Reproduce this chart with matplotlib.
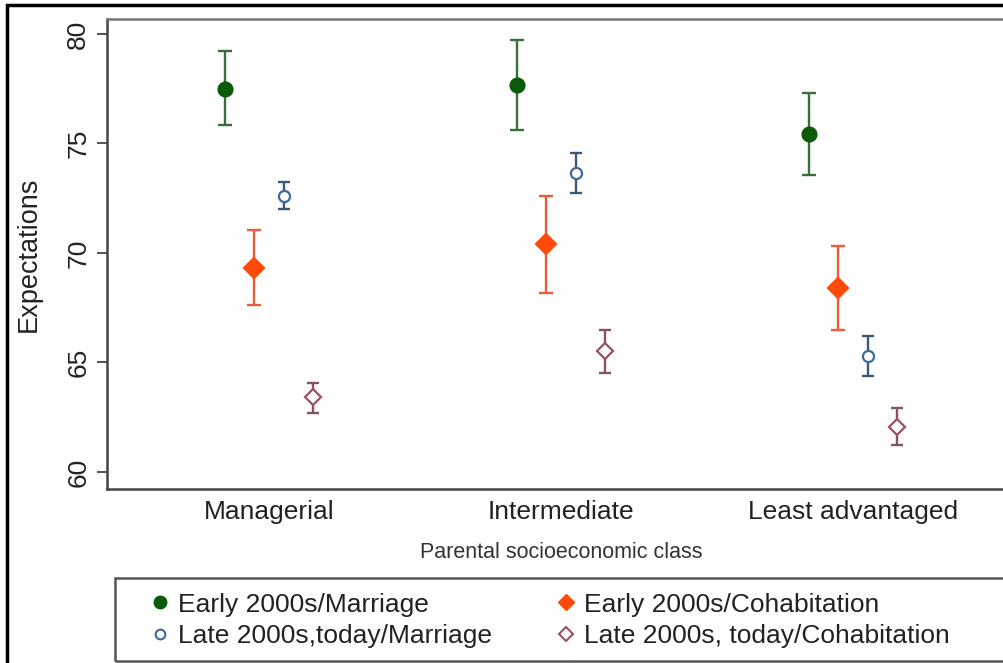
import numpy as np
import matplotlib
matplotlib.use("Agg")
import matplotlib.pyplot as plt
from matplotlib.lines import Line2D
from matplotlib.patches import Rectangle

plt.rcParams['font.family'] = ['Liberation Sans', 'DejaVu Sans']

categories = ["Managerial", "Intermediate", "Least advantaged"]
series_names = ["Early 2000s/Marriage", "Early 2000s/Cohabitation",
                "Late 2000s,today/Marriage", "Late 2000s, today/Cohabitation"]

# point estimates and 95% CI bounds
early_marriage = [77.5, 77.65, 75.45]
early_marriage_lo = [75.85, 75.6, 73.55]
early_marriage_hi = [79.2, 79.7, 77.3]

early_cohab = [69.3, 70.4, 68.4]
early_cohab_lo = [67.6, 68.15, 66.5]
early_cohab_hi = [71.05, 72.6, 70.3]

late_marriage = [72.6, 73.65, 65.3]
late_marriage_lo = [72.0, 72.75, 64.4]
late_marriage_hi = [73.25, 74.55, 66.2]

late_cohab = [63.4, 65.5, 62.05]
late_cohab_lo = [62.7, 64.5, 61.25]
late_cohab_hi = [64.05, 66.5, 62.9]

W, H = 1004, 663
fig = plt.figure(figsize=(W / 100, H / 100), dpi=100)

# outer frame (cropped on right and bottom)
fig.patches.append(Rectangle((7 / W, -0.1), 1.2, (H - 5) / H + 0.1, transform=fig.transFigure,
                             fill=False, edgecolor='black', linewidth=2.5, zorder=0))

ax = fig.add_axes([107 / W, (H - 489) / H, (1015 - 107) / W, (489 - 19) / H])

x = np.arange(1, len(categories) + 1)

styles = [
    dict(means=early_marriage, lo=early_marriage_lo, hi=early_marriage_hi, off=-0.15,
         marker='o', mfc='#0a5a0a', mec='#0a5a0a', ms=10, ecol='#3a6e3a', cap=5),
    dict(means=early_cohab, lo=early_cohab_lo, hi=early_cohab_hi, off=-0.05,
         marker='D', mfc='#ff4a0a', mec='#ff4a0a', ms=10, ecol='#ee5a3c', cap=5),
    dict(means=late_marriage, lo=late_marriage_lo, hi=late_marriage_hi, off=0.05,
         marker='o', mfc='white', mec='#3d6a98', ms=8, ecol='#3c5878', cap=4.5),
    dict(means=late_cohab, lo=late_cohab_lo, hi=late_cohab_hi, off=0.15,
         marker='D', mfc='white', mec='#9a5062', ms=8.5, ecol='#8a5060', cap=4.5),
]

for s in styles:
    m = np.array(s['means'])
    err = [m - np.array(s['lo']), np.array(s['hi']) - m]
    ax.errorbar(x + s['off'], m, yerr=err, fmt='none', ecolor=s['ecol'],
                elinewidth=1.7, capsize=s['cap'], capthick=1.7, zorder=2)
    ax.plot(x + s['off'], m, linestyle='none', marker=s['marker'], markersize=s['ms'],
            markerfacecolor=s['mfc'], markeredgecolor=s['mec'], markeredgewidth=1.6, zorder=3)

ax.set_xlim(0.445, 3.555)
ax.set_ylim(59.22, 80.68)
ax.set_yticks([60, 65, 70, 75, 80])
ax.set_xticks(x)
ax.set_xticklabels(categories, fontsize=19, color='#222222')
ax.tick_params(axis='x', length=0, pad=8)
ax.tick_params(axis='y', length=7, width=1.3, color='#444444', pad=5, labelsize=19,
               labelcolor='#222222')
for lab in ax.get_yticklabels():
    lab.set_rotation(90)
    lab.set_va('center')

ax.set_ylabel("Expectations", fontsize=19.5, color='#222222', labelpad=18)
ax.set_xlabel("Parental socioeconomic class", fontsize=15.5, color='#333333', labelpad=13)

for side in ['left', 'bottom', 'top']:
    ax.spines[side].set_color('#444444')
    ax.spines[side].set_linewidth(1.8)
ax.spines['top'].set_color('#777777')
ax.spines['right'].set_visible(False)

# legend frame
fig.patches.append(Rectangle((115 / W, (H - 661) / H), 1.0, (661 - 578) / H,
                             transform=fig.transFigure, fill=False,
                             edgecolor='#555555', linewidth=1.8, zorder=1))

handles = [
    Line2D([], [], linestyle='none', marker='o', markersize=9, markerfacecolor='#0a5a0a',
           markeredgecolor='#0a5a0a'),
    Line2D([], [], linestyle='none', marker='o', markersize=7, markerfacecolor='white',
           markeredgecolor='#3d6a98', markeredgewidth=1.5),
    Line2D([], [], linestyle='none', marker='D', markersize=8, markerfacecolor='#ff4a0a',
           markeredgecolor='#ff4a0a'),
    Line2D([], [], linestyle='none', marker='D', markersize=7.5, markerfacecolor='white',
           markeredgecolor='#9a5062', markeredgewidth=1.5),
]
labels = [series_names[0], series_names[2], series_names[1], series_names[3]]
fig.legend(handles, labels, ncol=2, loc='upper left', bbox_to_anchor=(139 / W, (H - 582) / H),
           frameon=False, fontsize=19, handlelength=0.8, handletextpad=0.28,
           columnspacing=2.4, labelspacing=0.3, borderaxespad=0, labelcolor='#222222')

fig.savefig("out.png", dpi=100)
